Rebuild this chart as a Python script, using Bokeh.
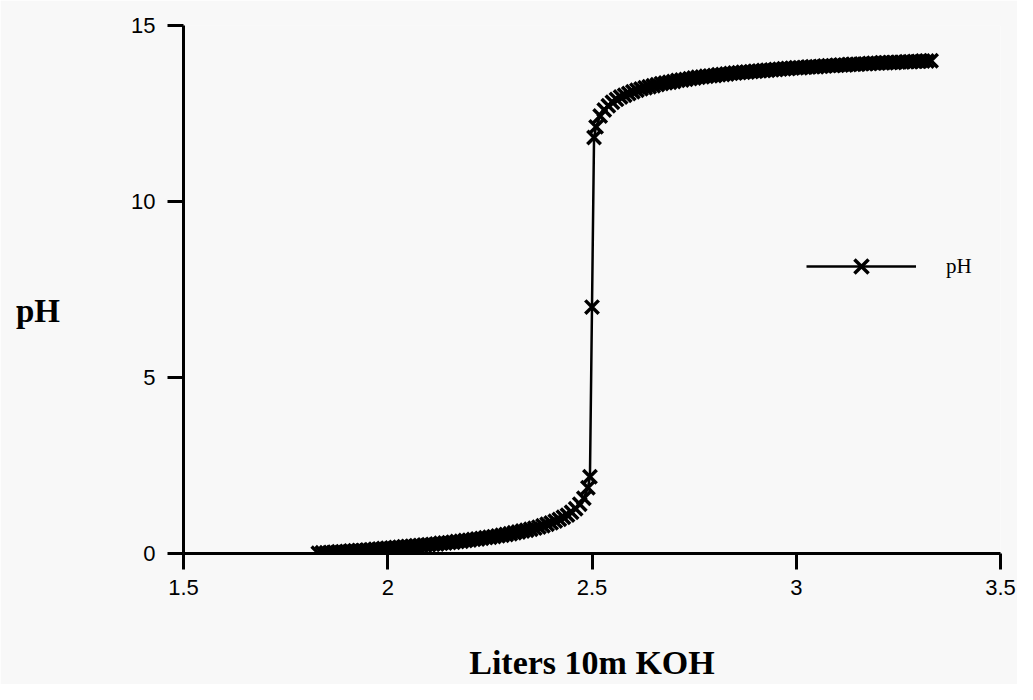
from bokeh.plotting import figure
from bokeh.models import Range1d, FixedTicker, Legend, LegendItem
from bokeh.embed import file_html
from bokeh.resources import INLINE

# Liters of 10m KOH added (x) and measured pH (y)
liters = [1.83, 1.84, 1.85, 1.86, 1.87, 1.88, 1.89, 1.90, 1.91, 1.92, 1.93, 1.94,
          1.95, 1.96, 1.97, 1.98, 1.99, 2.00, 2.01, 2.02, 2.03, 2.04, 2.05, 2.06,
          2.07, 2.08, 2.09, 2.10, 2.11, 2.12, 2.13, 2.14, 2.15, 2.16, 2.17, 2.18,
          2.19, 2.20, 2.21, 2.22, 2.23, 2.24, 2.25, 2.26, 2.27, 2.28, 2.29, 2.30,
          2.31, 2.32, 2.33, 2.34, 2.35, 2.36, 2.37, 2.38, 2.39, 2.40, 2.41, 2.42,
          2.43, 2.44, 2.45, 2.46, 2.47, 2.48, 2.49, 2.495, 2.50, 2.505, 2.51, 2.52,
          2.53, 2.54, 2.55, 2.56, 2.57, 2.58, 2.59, 2.60, 2.61, 2.62, 2.63, 2.64,
          2.65, 2.66, 2.67, 2.68, 2.69, 2.70, 2.71, 2.72, 2.73, 2.74, 2.75, 2.76,
          2.77, 2.78, 2.79, 2.80, 2.81, 2.82, 2.83, 2.84, 2.85, 2.86, 2.87, 2.88,
          2.89, 2.90, 2.91, 2.92, 2.93, 2.94, 2.95, 2.96, 2.97, 2.98, 2.99, 3.00,
          3.01, 3.02, 3.03, 3.04, 3.05, 3.06, 3.07, 3.08, 3.09, 3.10, 3.11, 3.12,
          3.13, 3.14, 3.15, 3.16, 3.17, 3.18, 3.19, 3.20, 3.21, 3.22, 3.23, 3.24,
          3.25, 3.26, 3.27, 3.28, 3.29, 3.30, 3.31, 3.32, 3.33]
ph = [0.01, 0.02, 0.02, 0.03, 0.04, 0.05, 0.05, 0.06, 0.07, 0.08, 0.09, 0.09,
      0.10, 0.11, 0.12, 0.13, 0.14, 0.15, 0.16, 0.17, 0.18, 0.19, 0.20, 0.21,
      0.22, 0.23, 0.24, 0.25, 0.26, 0.27, 0.29, 0.30, 0.31, 0.32, 0.34, 0.35,
      0.37, 0.38, 0.40, 0.41, 0.43, 0.45, 0.46, 0.48, 0.50, 0.52, 0.54, 0.56,
      0.59, 0.61, 0.64, 0.66, 0.69, 0.72, 0.75, 0.79, 0.83, 0.87, 0.92, 0.97,
      1.03, 1.09, 1.17, 1.27, 1.40, 1.57, 1.87, 2.18, 7.00, 11.82, 12.12, 12.43,
      12.60, 12.72, 12.82, 12.90, 12.97, 13.02, 13.07, 13.12, 13.16, 13.20, 13.23, 13.26,
      13.29, 13.32, 13.35, 13.37, 13.39, 13.41, 13.44, 13.45, 13.47, 13.49, 13.51, 13.53,
      13.54, 13.56, 13.57, 13.58, 13.60, 13.61, 13.62, 13.64, 13.65, 13.66, 13.67, 13.68,
      13.69, 13.70, 13.71, 13.72, 13.73, 13.74, 13.75, 13.76, 13.77, 13.78, 13.79, 13.80,
      13.80, 13.81, 13.82, 13.83, 13.83, 13.84, 13.85, 13.86, 13.86, 13.87, 13.88, 13.88,
      13.89, 13.90, 13.90, 13.91, 13.91, 13.92, 13.93, 13.93, 13.94, 13.94, 13.95, 13.95,
      13.96, 13.96, 13.97, 13.97, 13.98, 13.98, 13.99, 13.99, 14.00]

x_ticks = [1.5, 2, 2.5, 3, 3.5]
y_ticks = [0, 5, 10, 15]
x_title = "Liters 10m KOH"
y_title = "pH"

BG = "#f8f8f8"

p = figure(width=1017, height=684, output_backend="svg", toolbar_location=None,
           x_range=Range1d(1.5, 3.5), y_range=Range1d(0, 15),
           min_border_left=183, min_border_right=17, min_border_top=25,
           min_border_bottom=131, background_fill_color=BG, border_fill_color=BG)
p.outline_line_color = None
p.grid.visible = False

line_r = p.line(liters, ph, line_color="black", line_width=2.5)
pts_r = p.scatter(liters, ph, marker="x", size=19, line_color="black", line_width=3.5)

for ax in (p.xaxis[0], p.yaxis[0]):
    ax.axis_line_width = 3
    ax.major_tick_line_width = 3
    ax.major_tick_out = 16
    ax.major_tick_in = 0
    ax.minor_tick_line_color = None
    ax.major_label_text_font = "Liberation Sans"
    ax.major_label_text_font_size = "22px"
    ax.major_label_text_color = "black"
    ax.axis_label_text_font = "Liberation Serif"
    ax.axis_label_text_font_style = "bold"
    ax.axis_label_text_color = "black"

p.xaxis.ticker = FixedTicker(ticks=x_ticks)
p.yaxis.ticker = FixedTicker(ticks=y_ticks)
p.xaxis.major_label_overrides = {1.5: "1.5", 2: "2", 2.5: "2.5", 3: "3", 3.5: "3.5"}
p.xaxis.major_label_standoff = 10
p.yaxis.major_label_standoff = 12

p.xaxis.axis_label = x_title
p.xaxis.axis_label_text_font_size = "34px"
p.xaxis.axis_label_text_line_height = 1.0
p.xaxis.axis_label_standoff = 46

p.yaxis.axis_label = "\n" + y_title
p.yaxis.axis_label_text_font_size = "33px"
p.yaxis.axis_label_text_line_height = 1.2
p.yaxis.axis_label_orientation = "horizontal"
p.yaxis.axis_label_standoff = 68

legend = Legend(items=[LegendItem(label="pH", renderers=[line_r, pts_r])],
                location=(623, 262), glyph_width=110, glyph_height=50,
                label_height=20, padding=0, margin=0, label_standoff=30,
                border_line_color=None, background_fill_alpha=0,
                label_text_font="Liberation Serif", label_text_font_size="21px",
                label_text_color="black")
p.add_layout(legend, "center")

open("out.html", "w").write(file_html(p, INLINE))
